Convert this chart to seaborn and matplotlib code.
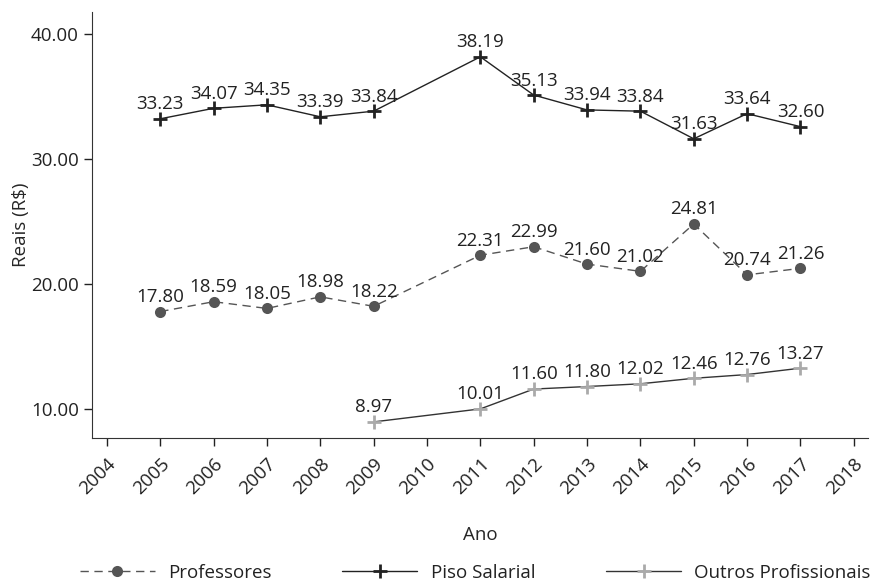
import numpy as np
import pandas as pd
import seaborn as sns
import matplotlib
matplotlib.use('Agg')
import matplotlib.pyplot as plt

# dados
anos_prof = [2005, 2006, 2007, 2008, 2009, 2011, 2012, 2013, 2014, 2015, 2016, 2017]
professores = [17.80, 18.59, 18.05, 18.98, 18.22, 22.31, 22.99, 21.60, 21.02, 24.81, 20.74, 21.26]
piso_salarial = [33.23, 34.07, 34.35, 33.39, 33.84, 38.19, 35.13, 33.94, 33.84, 31.63, 33.64, 32.60]
anos_outros = [2009, 2011, 2012, 2013, 2014, 2015, 2016, 2017]
outros = [8.97, 10.01, 11.60, 11.80, 12.02, 12.46, 12.76, 13.27]
xticks = list(range(2004, 2019))
yticks = [10, 20, 30, 40]

sns.set_style('ticks')
plt.rcParams['font.family'] = ['Open Sans', 'DejaVu Sans']
plt.rcParams['text.color'] = '#222222'
plt.rcParams['xtick.color'] = '#222222'
plt.rcParams['ytick.color'] = '#222222'
fs = 13.5

fig, ax = plt.subplots(figsize=(8.8, 5.82), dpi=100)
fig.subplots_adjust(left=0.1045, right=0.986, top=0.979, bottom=0.2474)

df_prof = pd.DataFrame({'ano': anos_prof, 'valor': professores})
df_piso = pd.DataFrame({'ano': anos_prof, 'valor': piso_salarial})
df_out = pd.DataFrame({'ano': anos_outros, 'valor': outros})

sns.lineplot(data=df_prof, x='ano', y='valor', ax=ax, color='#555555', lw=1,
             linestyle=(0, (6, 4)), marker='o', markersize=8, markeredgewidth=0,
             label='Professores')
sns.lineplot(data=df_piso, x='ano', y='valor', ax=ax, color='#222222', lw=1,
             marker='+', markersize=9.5, markeredgewidth=2, markeredgecolor='#222222',
             label='Piso Salarial')
sns.lineplot(data=df_out, x='ano', y='valor', ax=ax, color='#333333', lw=1,
             marker='+', markersize=9.5, markeredgewidth=2, markeredgecolor='#aaaaaa',
             label='Outros Profissionais')

for xs, ys in [(anos_prof, professores), (anos_prof, piso_salarial), (anos_outros, outros)]:
    for x, y in zip(xs, ys):
        ax.annotate(f'{y:.2f}', (x, y), xytext=(0, 4), textcoords='offset points',
                    ha='center', va='bottom', fontsize=fs)

ax.set_xlim(2003.72, 2018.26)
ax.set_ylim(7.68, 41.76)
ax.set_xticks(xticks)
ax.set_xticklabels([str(t) for t in xticks], rotation=45, ha='right',
                   rotation_mode='anchor', fontsize=fs)
ax.set_yticks(yticks)
ax.set_yticklabels([f'{t:.2f}' for t in yticks], fontsize=fs)
ax.tick_params(length=6, width=1)
ax.tick_params(axis='x', pad=6)
ax.set_xlabel('Ano', fontsize=fs, labelpad=20)
ax.set_ylabel('Reais (R\\$)', fontsize=fs, labelpad=1)
sns.despine(ax=ax)
for s in ['left', 'bottom']:
    ax.spines[s].set_color('#333333')

handles, labels = ax.get_legend_handles_labels()
ax.get_legend().remove()
fig.legend(handles, labels, loc='lower center', ncol=3, frameon=False,
           bbox_to_anchor=(0.54, -0.025), fontsize=fs, handlelength=4,
           handletextpad=0.7, columnspacing=3.8, borderpad=0.3)

fig.savefig('out.png', dpi=100)
